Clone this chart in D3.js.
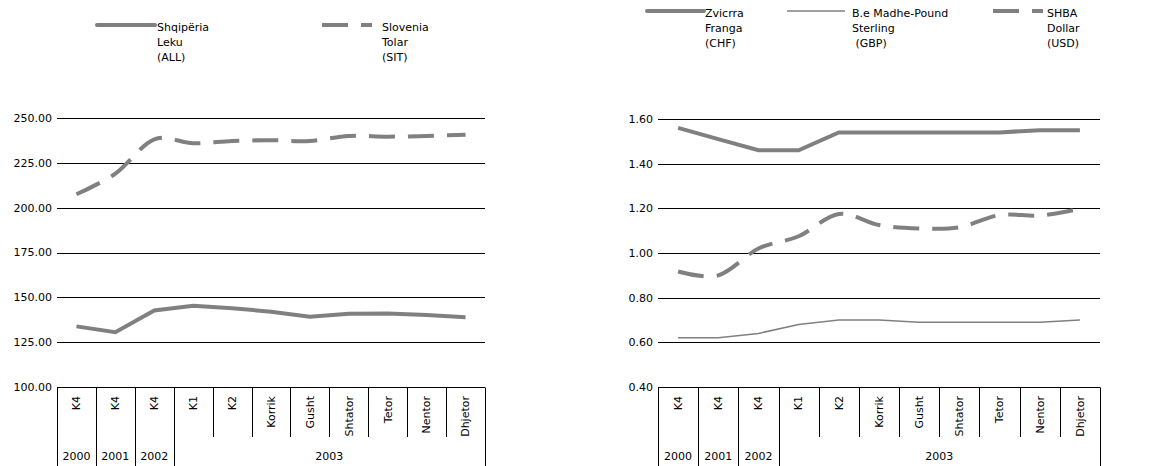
<!DOCTYPE html>
<html>
<head>
<meta charset="utf-8">
<script src="https://cdn.jsdelivr.net/npm/d3@7"></script>
<style>
body { margin: 0; background: #fff; }
svg text { font-family: "DejaVu Sans", sans-serif; font-size: 11px; fill: #000; }
</style>
</head>
<body>
<svg id="chart" width="1154" height="466"></svg>
<script>
// categories (same on both panels)
const periods = ["K4", "K4", "K4", "K1", "K2", "Korrik", "Gusht", "Shtator", "Tetor", "Nentor", "Dhjetor"];
const years = [
    { label: "2000", from: 0, to: 1 },
    { label: "2001", from: 1, to: 2 },
    { label: "2002", from: 2, to: 3 },
    { label: "2003", from: 3, to: 11 }
];

// left panel
const allValues = [133.8, 130.6, 142.7, 145.3, 143.9, 142.0, 139.2, 140.8, 141.0, 140.2, 138.9];
const sitValues = [207.5, 219.0, 238.1, 235.9, 237.2, 237.6, 237.2, 240.0, 239.6, 240.0, 240.7];
const leftTicks = [100, 125, 150, 175, 200, 225, 250];

// right panel
const chfValues = [1.56, 1.51, 1.46, 1.46, 1.54, 1.54, 1.54, 1.54, 1.54, 1.55, 1.55];
const gbpValues = [0.62, 0.62, 0.64, 0.68, 0.70, 0.70, 0.69, 0.69, 0.69, 0.69, 0.70];
const usdValues = [0.917, 0.90, 1.02, 1.075, 1.175, 1.125, 1.11, 1.115, 1.17, 1.168, 1.198];
const rightTicks = [0.4, 0.6, 0.8, 1.0, 1.2, 1.4, 1.6];

const grey = "#808080";
const styles = {
    solid: { width: 4, dash: null, curve: d3.curveLinear },
    thin: { width: 1.5, dash: null, curve: d3.curveLinear },
    dashed: { width: 4, dash: "26,13", curve: d3.curveCardinal.tension(0) }
};

const svg = d3.select("#chart");

function drawPanel(opt) {
    const g = svg.append("g");
    const x = d3.scaleBand().domain(d3.range(periods.length)).range([opt.x0, opt.x1]);
    const y = d3.scaleLinear().domain(opt.domain).range([opt.yBottom, opt.yTop]);

    // horizontal gridlines
    g.selectAll(".grid")
        .data(opt.ticks.slice(1))
        .enter()
        .append("line")
        .attr("x1", opt.x0)
        .attr("x2", opt.x1)
        .attr("y1", d => Math.round(y(d)) + 0.5)
        .attr("y2", d => Math.round(y(d)) + 0.5)
        .style("stroke", "#000")
        .style("stroke-width", 1);

    // y labels
    g.selectAll(".ylab")
        .data(opt.ticks)
        .enter()
        .append("text")
        .attr("x", opt.x0 - 5)
        .attr("y", d => y(d))
        .attr("dy", "0.35em")
        .attr("text-anchor", "end")
        .text(d => d3.format(".2f")(d));

    // x axis line
    const yAxis = Math.round(y(opt.domain[0])) + 0.5;
    g.append("line")
        .attr("x1", opt.x0).attr("x2", opt.x1)
        .attr("y1", yAxis).attr("y2", yAxis)
        .style("stroke", "#000");

    // category separators: year boundaries run to the bottom
    const yearEdges = new Set(years.map(d => d.from).concat([periods.length]));
    g.selectAll(".sep")
        .data(d3.range(periods.length + 1))
        .enter()
        .append("line")
        .attr("x1", i => Math.round(opt.x0 + i * x.bandwidth()) + 0.5)
        .attr("x2", i => Math.round(opt.x0 + i * x.bandwidth()) + 0.5)
        .attr("y1", yAxis)
        .attr("y2", i => yearEdges.has(i) ? 466 : 437)
        .style("stroke", "#000");

    // rotated period labels
    g.selectAll(".plab")
        .data(periods)
        .enter()
        .append("text")
        .attr("transform", (d, i) => "translate(" + (x(i) + x.bandwidth() / 2) + ",396) rotate(-90)")
        .attr("dy", "0.35em")
        .attr("text-anchor", "end")
        .text(d => d);

    // year labels
    g.selectAll(".ylab2")
        .data(years)
        .enter()
        .append("text")
        .attr("x", d => opt.x0 + (d.from + d.to) / 2 * x.bandwidth())
        .attr("y", 460)
        .attr("text-anchor", "middle")
        .text(d => d.label);

    // series
    opt.series.forEach(s => {
        const st = styles[s.style];
        const line = d3.line()
            .x((d, i) => x(i) + x.bandwidth() / 2)
            .y(d => y(d))
            .curve(st.curve);
        g.append("path")
            .datum(s.values)
            .attr("d", line)
            .style("fill", "none")
            .style("stroke", grey)
            .style("stroke-width", st.width)
            .style("stroke-dasharray", st.dash);
    });

    // legend
    opt.series.forEach(s => {
        const st = styles[s.style];
        const lg = g.append("g");
        lg.append("line")
            .attr("x1", s.lx).attr("x2", s.lx + s.llen)
            .attr("y1", opt.legendY).attr("y2", opt.legendY)
            .style("stroke", grey)
            .style("stroke-width", st.width)
            .style("stroke-linecap", s.style === "solid" ? "round" : "butt")
            .style("stroke-dasharray", st.dash);
        lg.selectAll("text")
            .data(s.label)
            .enter()
            .append("text")
            .attr("x", s.tx)
            .attr("y", (d, i) => opt.legendY + 6 + i * 15)
            .style("white-space", "pre")
            .attr("xml:space", "preserve")
            .text(d => d);
    });
}

drawPanel({
    x0: 57, x1: 485, yTop: 118, yBottom: 387,
    domain: [100, 250], ticks: leftTicks, legendY: 25,
    series: [
        { values: allValues, style: "solid", label: ["Shqipëria", "Leku", "(ALL)"], lx: 97, llen: 58, tx: 157 },
        { values: sitValues, style: "dashed", label: ["Slovenia", "Tolar", "(SIT)"], lx: 322, llen: 50, tx: 382 }
    ]
});

drawPanel({
    x0: 658, x1: 1100, yTop: 119, yBottom: 387,
    domain: [0.4, 1.6], ticks: rightTicks, legendY: 11,
    series: [
        { values: chfValues, style: "solid", label: ["Zvicrra", "Franga", "(CHF)"], lx: 647, llen: 57, tx: 705 },
        { values: gbpValues, style: "thin", label: ["B.e Madhe-Pound", "Sterling", " (GBP)"], lx: 787, llen: 58, tx: 852 },
        { values: usdValues, style: "dashed", label: ["SHBA", "Dollar", "(USD)"], lx: 993, llen: 50, tx: 1047 }
    ]
});
</script>
</body>
</html>
